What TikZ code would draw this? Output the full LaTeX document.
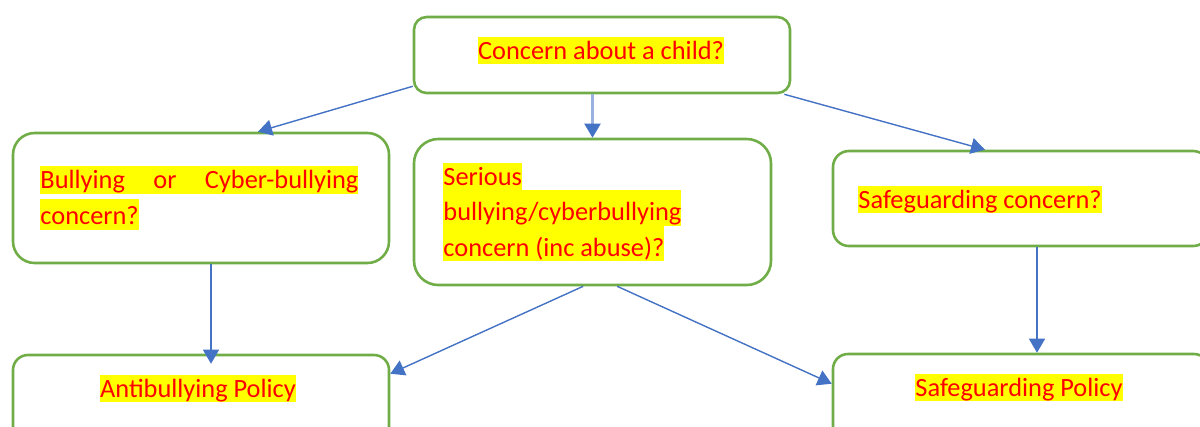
\documentclass[tikz,border=0pt]{standalone}
\usepackage{fontspec}
\setmainfont{Carlito}
\usetikzlibrary{arrows.meta}
\definecolor{boxgreen}{HTML}{70AD47}
\definecolor{arrowblue}{HTML}{4472C4}
\definecolor{hlyellow}{HTML}{FFFF00}
% highlighted text, optional height of the highlight above the baseline
\newcommand\hl[2][0.85em]{{\setlength\fboxsep{0pt}\colorbox{hlyellow}{\rule[-0.2em]{0pt}{\dimexpr#1+0.2em\relax}#2}}}
\tikzset{
  box/.style={draw=boxgreen, line width=1.1pt, inner sep=0pt, fill=white},
  txt/.style={text=red, inner sep=0pt, align=left, font={\fontsize{11.25}{15.15}\selectfont\lineskiplimit=-10pt}},
  arr/.style={draw=arrowblue, line width=0.6pt, -{Triangle[width=0.24cm,length=0.21cm]}},
  arrlight/.style={draw=arrowblue!55, line width=0.9pt, -{Triangle[width=0.24cm,length=0.21cm,color=arrowblue]}},
}
\begin{document}
\begin{tikzpicture}[x=0.015cm, y=-0.015cm]
        \useasboundingbox (0,0) rectangle (1200,426);
        % boxes
        \node[box, minimum width=5.64cm, minimum height=1.14cm, rounded corners=0.19cm] at (602,55) (child){};
        \node[box, minimum width=5.64cm, minimum height=1.95cm, rounded corners=0.325cm] at (201,198) (bully){};
        \node[box, minimum width=5.355cm, minimum height=2.19cm, rounded corners=0.365cm] at (592.5,212) (serious){};
        \node[box, minimum width=5.64cm, minimum height=1.425cm, rounded corners=0.24cm] at (1021,198.5) (safeq){};
        \node[box, minimum width=5.64cm, minimum height=1.35cm, rounded corners=0.225cm] at (201,400) (antipol){};
        \node[box, minimum width=5.64cm, minimum height=1.35cm, rounded corners=0.225cm] at (1021,399) (safepol){};
        % texts
        \node[txt, anchor=base] at (601,59) (childtxt){\hl{Concern about a child?}};
        \node[txt, anchor=north west] at (40,166) (bullytxt){\hl{\makebox[4.77cm][s]{Bullying or Cyber-bullying}}\\ \hl[0.95em]{concern?}};
        \node[txt, anchor=north west] at (443,162.3) (serioustxt){\hl{Serious}\\ \hl[1.18em]{bullying/cyberbullying}\\ \hl[1.18em]{concern (inc abuse)?}};
        \node[txt, anchor=base west] at (858,208) (safeqtxt){\hl{Safeguarding concern?}};
        \node[txt, anchor=base] at (198,397) (antitxt){\hl{Antibullying Policy}};
        \node[txt, anchor=base] at (1019,396) (safepoltxt){\hl{Safeguarding Policy}};
        % connectors
        \draw[arr] ([yshift=0.12cm]child.south west) -- ([xshift=0.855cm]bully.north);
        \draw[arrlight] (child.south -| serious.north) -- (serious.north);
        \draw[arr] ([xshift=-0.105cm]child.south east) -- ([xshift=-0.54cm]safeq.north);
        \draw[arr] ([xshift=0.15cm]bully.south) -- ([xshift=0.15cm,yshift=-0.15cm]antipol.north);
        \draw[arr] ([xshift=-0.14cm]serious.south) -- ([yshift=-0.3cm]antipol.north east);
        \draw[arr] ([xshift=0.37cm]serious.south) -- ([yshift=-0.465cm]safepol.north west);
        \draw[arr] ([xshift=0.24cm]safeq.south) -- ([xshift=0.24cm]safepol.north);
    \end{tikzpicture}
\end{document}
